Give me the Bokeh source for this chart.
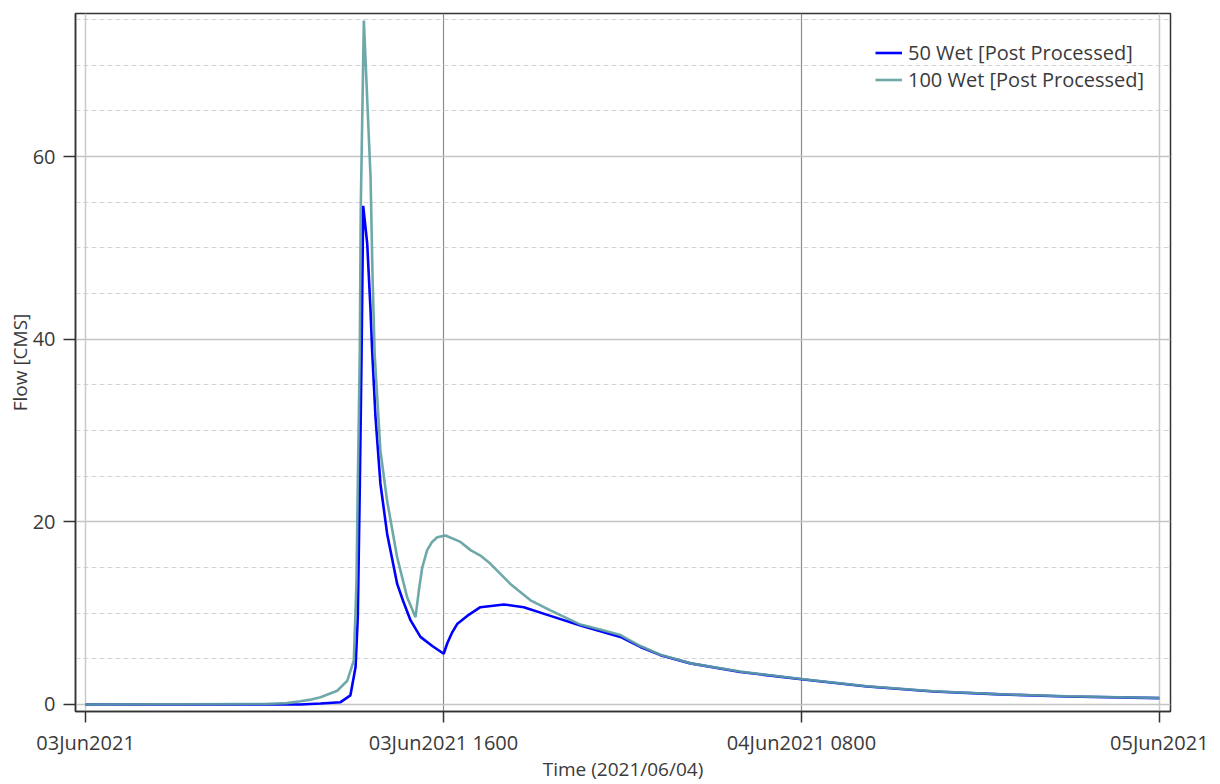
from bokeh.plotting import figure
from bokeh.models import FixedTicker, Range1d, Grid, Legend, LegendItem
from bokeh.embed import file_html
from bokeh.resources import INLINE

# Hours since 03Jun2021 0000
hours_50 = [0, 9.6, 10.5, 11.4, 11.84, 12.07, 12.17, 12.26, 12.34, 12.41, 12.59, 12.74, 12.81,
            12.96, 13.18, 13.48, 13.93, 14.2, 14.53, 14.97, 15.5, 16.01, 16.17, 16.39, 16.61, 17.06,
            17.65, 18.7, 19.59, 20.78, 22.12, 23.91, 24.8, 25.7, 27.04, 29.27, 32.1, 34.94,
            37.91, 40.89, 43.87, 48.0]
flow_50 = [0, 0.0, 0.1, 0.25, 1.0, 4.1, 9.6, 24, 38.8, 54.6, 50.5, 43.1, 38.8,
           31.5, 24.2, 18.7, 13.2, 11.3, 9.2, 7.4, 6.4, 5.55, 6.7, 7.9, 8.8, 9.7,
           10.65, 10.95, 10.65, 9.7, 8.65, 7.4, 6.3, 5.4, 4.5, 3.55, 2.74, 1.97,
           1.42, 1.1, 0.88, 0.69]

hours_100 = [0, 8.0, 9.0, 9.6, 10.0, 10.5, 11.25, 11.7, 11.99, 12.11, 12.17, 12.26, 12.30, 12.44,
             12.74, 12.83, 12.92, 13.18, 13.48, 13.93, 14.38, 14.75, 14.9, 15.05, 15.27, 15.49,
             15.72, 16.09, 16.76, 17.21, 17.65, 18.1, 18.99, 19.89, 20.78, 22.12, 23.0, 23.91,
             24.8, 25.7, 27.04, 29.27, 32.1, 34.94, 37.91, 40.89, 43.87, 48.0]
flow_100 = [0, 0.05, 0.15, 0.35, 0.5, 0.8, 1.5, 2.6, 4.8, 13.2, 24.2, 38.8, 54.0, 74.9,
            57.7, 46.8, 38.5, 27.8, 22.3, 16.1, 11.7, 9.56, 12.5, 15.0, 16.9, 17.8,
            18.3, 18.5, 17.8, 16.9, 16.3, 15.4, 13.2, 11.4, 10.3, 8.75, 8.2, 7.6,
            6.4, 5.45, 4.5, 3.6, 2.76, 1.99, 1.44, 1.12, 0.9, 0.71]

x_ticks = [0, 16, 32, 48]
x_tick_labels = ["03Jun2021", "03Jun2021 1600", "04Jun2021 0800", "05Jun2021"]
y_ticks = [0, 20, 40, 60]
y_minor = [5, 10, 15, 25, 30, 35, 45, 50, 55, 65, 70, 75]

FONT = "Open Sans"
TXT = "#3a3a3a"

p = figure(width=1210, height=784, output_backend="svg", toolbar_location=None,
           x_range=Range1d(-0.45, 48.5), y_range=Range1d(-0.77, 75.66),
           min_border_left=75, min_border_top=13, min_border_right=40, min_border_bottom=72)

p.background_fill_color = "white"
p.outline_line_color = "#333333"
p.outline_line_width = 1.5

# x axis
p.xaxis.ticker = FixedTicker(ticks=x_ticks, minor_ticks=[])
p.xaxis.major_label_overrides = {t: l for t, l in zip(x_ticks, x_tick_labels)}
p.xaxis.axis_label = "Time (2021/06/04)"
p.xaxis.major_tick_out = 11
p.xaxis.major_tick_in = 0
p.xaxis.major_label_standoff = 6
p.xaxis.axis_label_standoff = -3

# y axis
p.yaxis.ticker = FixedTicker(ticks=y_ticks, minor_ticks=y_minor)
p.yaxis.axis_label = "Flow [CMS]"
p.yaxis.major_tick_out = 12
p.yaxis.major_tick_in = 0
p.yaxis.minor_tick_out = 8
p.yaxis.minor_tick_in = 0
p.yaxis.major_label_standoff = 8
p.yaxis.axis_label_standoff = -3

for ax in (p.xaxis, p.yaxis):
    ax.axis_line_color = "#333333"
    ax.axis_line_width = 1.5
    ax.major_tick_line_color = "#333333"
    ax.major_tick_line_width = 1.5
    ax.minor_tick_line_color = "#333333" if ax is p.yaxis else None
    ax.minor_tick_line_width = 1.2
    ax.major_label_text_font = FONT
    ax.major_label_text_font_size = "20px"
    ax.major_label_text_color = TXT
    ax.axis_label_text_font = FONT
    ax.axis_label_text_font_size = "19px"
    ax.axis_label_text_font_style = "normal"
    ax.axis_label_text_color = TXT

# grids
p.xgrid.ticker = FixedTicker(ticks=[16, 32])
p.xgrid.grid_line_color = "#8c8c8c"
p.xgrid.grid_line_width = 1.2
p.add_layout(Grid(dimension=0, ticker=FixedTicker(ticks=[0, 48]),
                  grid_line_color="#c8c8c8", grid_line_width=1.5))

p.ygrid.grid_line_color = "#c4c4c4"
p.ygrid.grid_line_width = 1.3
p.ygrid.minor_grid_line_color = "#d4d4d4"
p.ygrid.minor_grid_line_dash = "5 3"
p.ygrid.minor_grid_line_width = 1.0

r50 = p.line(hours_50, flow_50, line_color="#0000ff", line_width=2.6)
r100 = p.line(hours_100, flow_100, line_color="#5f9ea0", line_width=2.6, line_alpha=0.9)

legend = Legend(items=[LegendItem(label="50 Wet [Post Processed]", renderers=[r50]),
                       LegendItem(label="100 Wet [Post Processed]", renderers=[r100])],
                location=(800, 618))
legend.margin = 0
legend.padding = 10
legend.spacing = 0
legend.label_height = 27
legend.glyph_height = 27
legend.glyph_width = 27
legend.label_standoff = 6
legend.border_line_color = None
legend.background_fill_alpha = 0
legend.label_text_font = FONT
legend.label_text_font_size = "20px"
legend.label_text_color = TXT
p.add_layout(legend)

open("out.html", "w").write(file_html(p, INLINE))
